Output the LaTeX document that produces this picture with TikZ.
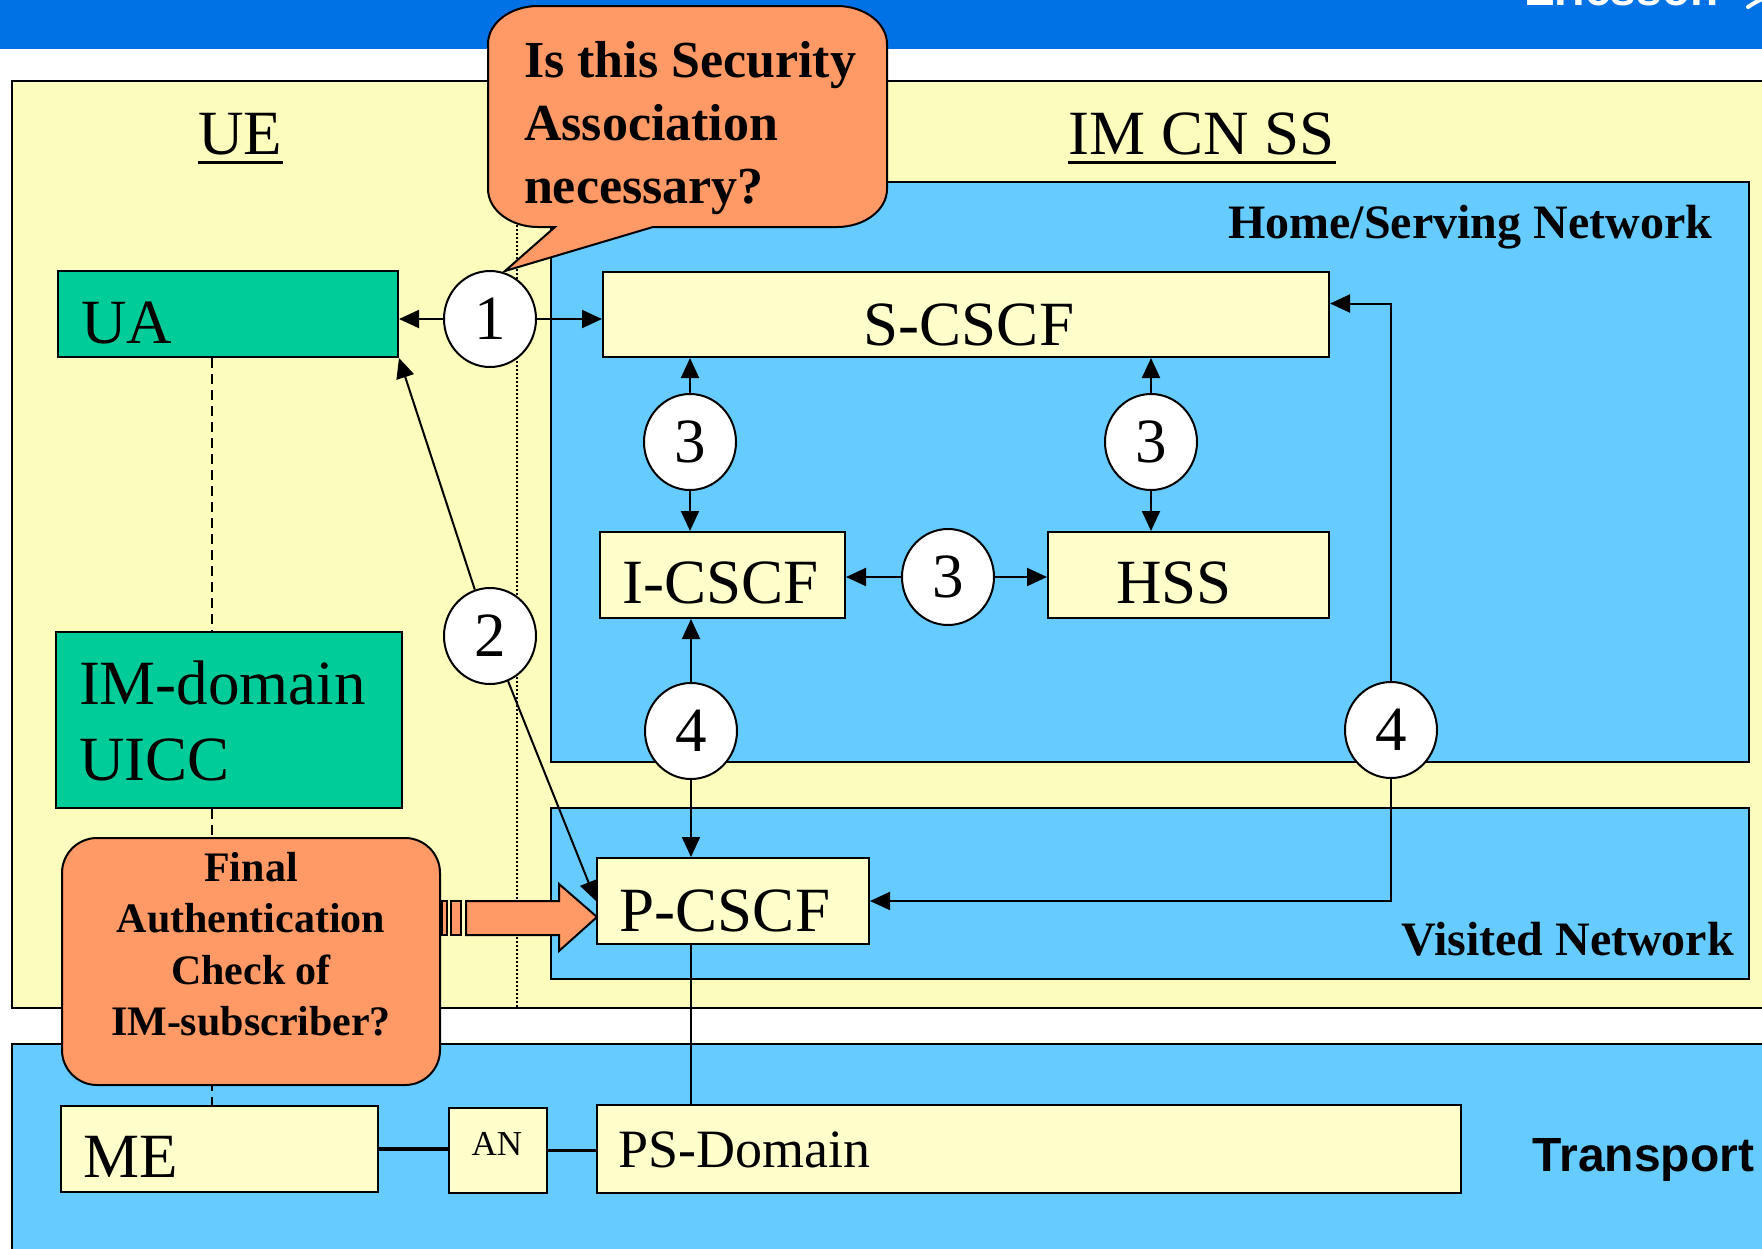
\documentclass[tikz,border=0pt]{standalone}
\usepackage{fontspec}
\setmainfont{Liberation Serif}
\newfontfamily\arialfont{Liberation Sans}
\usetikzlibrary{arrows.meta,shapes.geometric}

\definecolor{bannerblue}{HTML}{0072E5}
\definecolor{panelyellow}{HTML}{FCFCBC}
\definecolor{boxyellow}{HTML}{FFFFCC}
\definecolor{netblue}{HTML}{66CCFF}
\definecolor{uegreen}{HTML}{00CC99}
\definecolor{calloutorange}{HTML}{FF9966}

\begin{document}
\begin{tikzpicture}[x=1pt,y=-1pt,line width=2pt,
  ybox/.style={draw,fill=boxyellow,inner sep=0pt},
  gbox/.style={draw,fill=uegreen,inner sep=0pt},
  num/.style={ellipse,draw,fill=white,minimum width=92pt,minimum height=96pt,
              inner sep=0pt,font=\fontsize{63}{63}\selectfont},
  lbl/.style={inner sep=0pt,font=\fontsize{63}{63}\selectfont},
  netlbl/.style={inner sep=0pt,font=\bfseries\fontsize{48}{48}\selectfont},
  arr/.style={-{Triangle[length=20pt,width=18pt]}},
  thickline/.style={line width=3.5pt}]

\useasboundingbox (0,0) rectangle (1762,1248);
\fill[white] (0,0) rectangle (1762,1248);

% title banner
\fill[bannerblue] (0,0) rectangle (1762,49);
\begin{scope}
  \clip (0,0) rectangle (1762,49);
  \node[anchor=base west,inner sep=0pt,text=white,
        font=\arialfont\bfseries\fontsize{46}{46}\selectfont] (brand) at (1523,5) {Ericsson};
  \draw[white,line width=4pt,line cap=round] (1748,7) .. controls (1754,3) .. (1766,-3);
\end{scope}

% domain panels
\draw[fill=panelyellow] (12,81) rectangle (1775,1008);
\draw[fill=netblue] (12,1044) rectangle (1775,1260);
\draw[fill=netblue] (551,182) rectangle (1749,762);
\draw[fill=netblue] (551,808) rectangle (1749,979);

% UE / network boundary
\draw[line width=1.5pt,dash pattern=on 1.5pt off 2.5pt] (517,81) -- (517,1008);

% panel titles
\node[lbl,anchor=base] (ue) at (240.5,154) {UE};
\draw[line width=3pt] ([yshift=-8pt]ue.base west) -- ([yshift=-8pt]ue.base east);
\node[lbl,anchor=base] (imcn) at (1202,154) {IM CN SS};
\draw[line width=3pt] ([yshift=-8pt]imcn.base west) -- ([yshift=-8pt]imcn.base east);
\node[netlbl,anchor=base east] (home) at (1713,238) {Home/Serving Network};
\node[netlbl,anchor=base east] (visited) at (1735,955) {Visited Network};
\node[inner sep=0pt,anchor=base east,font=\arialfont\bfseries\fontsize{48}{48}\selectfont]
  (transport) at (1755,1171) {Transport};

% functional boxes
\node[gbox,minimum width=340pt,minimum height=86pt] (ua) at (228,314) {};
\node[gbox,minimum width=346pt,minimum height=176pt] (uicc) at (229,720) {};
\node[ybox,minimum width=726pt,minimum height=85pt] (scscf) at (966,314.5) {};
\node[ybox,minimum width=245pt,minimum height=86pt] (icscf) at (722.5,575) {};
\node[ybox,minimum width=281pt,minimum height=86pt] (hss) at (1188.5,575) {};
\node[ybox,minimum width=272pt,minimum height=86pt] (pcscf) at (733,901) {};
\node[ybox,minimum width=317pt,minimum height=86pt] (me) at (219.5,1149) {};
\node[ybox,minimum width=98pt,minimum height=85pt] (an) at (498,1150.5) {};
\node[ybox,minimum width=864pt,minimum height=88pt] (ps) at (1029,1149) {};

% UE internal link: UA - UICC - ME
\draw[dash pattern=on 10pt off 6pt] ([xshift=-16pt]ua.south) -- ([xshift=-16pt]ua.south |- uicc.north);
\draw[dash pattern=on 10pt off 6pt] ([xshift=-16pt]ua.south |- uicc.south) -- ([xshift=-16pt]ua.south |- me.north);

% box labels
\node[lbl,anchor=base west] (ualbl) at (80,343) {UA};
\node[anchor=base west,inner sep=0pt,font=\fontsize{63}{76}\selectfont] (uicclbl) at (78,704)
  {\begin{tabular}[t]{@{}l@{}}IM-domain\\UICC\end{tabular}};
\node[lbl,anchor=base] (scscflbl) at (969,345) {S-CSCF};
\node[lbl,anchor=base] (icscflbl) at (721,603) {I-CSCF};
\node[lbl,anchor=base] (hsslbl) at (1174,603) {HSS};
\node[lbl,anchor=base] (pcscflbl) at (725,931) {P-CSCF};
\node[lbl,anchor=base west] (melbl) at (82,1177) {ME};
\node[anchor=base,inner sep=0pt,font=\fontsize{35}{35}\selectfont] (anlbl) at (497,1155) {AN};
\node[anchor=base west,inner sep=0pt,font=\fontsize{54}{54}\selectfont] (pslbl) at (617,1167) {PS-Domain};

% numbered interfaces
\node[num] (c1) at (490,319) {1};
\node[num] (c2) at (490,636) {2};
\node[num] (c3a) at (690,442) {3};
\node[num] (c3b) at (1151,442) {3};
\node[num] (c3c) at (948,577) {3};
\node[num] (c4a) at (691,731) {4};
\node[num] (c4b) at (1391,730) {4};

% interface connectors
\draw[arr] (c1.west) -- (c1.west -| ua.east);
\draw[arr] (c1.east) -- (c1.east -| scscf.west);
\draw[arr] (c2) -- (ua.south east);
\draw[arr] (c2) -- (pcscf.west);
\draw[arr] (c3a.north) -- (c3a.north |- scscf.south);
\draw[arr] (c3a.south) -- (c3a.south |- icscf.north);
\draw[arr] (c3b.north) -- (c3b.north |- scscf.south);
\draw[arr] (c3b.south) -- (c3b.south |- hss.north);
\draw[arr] (c3c.west) -- (c3c.west -| icscf.east);
\draw[arr] (c3c.east) -- (c3c.east -| hss.west);
\draw[arr] (c4a.north) -- (c4a.north |- icscf.south);
\draw[arr] (c4a.south) -- (c4a.south |- pcscf.north);
\draw[arr] (c4b.north) |- ([yshift=11pt]scscf.east);
\draw[arr] (c4b.south) |- (pcscf.east);

% transport links
\draw (c4a |- pcscf.south) -- (c4a |- ps.north);
\draw[thickline] (me.east) -- (me.east -| an.west);
\draw[thickline] (an.east) -- (an.east -| ps.west);

% striped block arrow towards the P-CSCF
\draw[fill=calloutorange] (442,901) rectangle (447,935);
\draw[fill=calloutorange] (451,901) rectangle (461,935);
\draw[fill=calloutorange,line join=miter] (466,901) -- (559,901) -- (559,884) -- (597,917)
  -- (559,951) -- (559,935) -- (466,935) -- cycle;

% authentication question
\node[draw,fill=calloutorange,rounded corners=35pt,minimum width=378pt,minimum height=247pt]
  (authbox) at (251,961.5) {};
\node[anchor=base,inner sep=0pt,font=\bfseries\fontsize{42}{51.5}\selectfont] (authtxt) at (251,881)
  {\begin{tabular}[t]{@{}c@{}}Final\\Authentication\\Check of\\IM-subscriber?\end{tabular}};

% security association question (speech bubble pointing at interface 1)
\draw[fill=calloutorange,line join=miter] (488,44) -- (488,189)
  arc[start angle=180,end angle=90,x radius=50,y radius=38]
  -- (555,227) -- (505,271) -- (653,227) -- (837,227)
  arc[start angle=90,end angle=0,x radius=50,y radius=38]
  -- (887,44)
  arc[start angle=0,end angle=-90,x radius=50,y radius=38]
  -- (538,6)
  arc[start angle=270,end angle=180,x radius=50,y radius=38] -- cycle;
\node[anchor=base west,inner sep=0pt,font=\bfseries\fontsize{52}{63}\selectfont] (satxt) at (523,77)
  {\begin{tabular}[t]{@{}l@{}}Is this Security\\Association\\necessary?\end{tabular}};

\end{tikzpicture}
\end{document}
